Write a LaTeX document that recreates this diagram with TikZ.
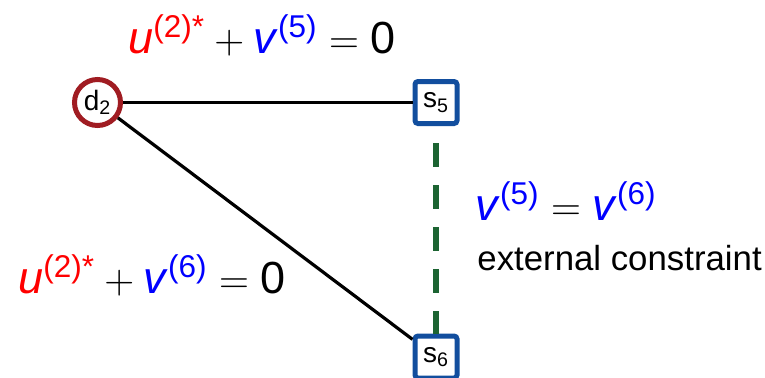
\documentclass[tikz,border=0pt]{standalone}
\usepackage{fontspec}
\setmainfont{Liberation Sans}
\usepackage{xcolor}
\usetikzlibrary{positioning}

\definecolor{dred}{RGB}{160,28,34}
\definecolor{sblue}{RGB}{18,78,158}
\definecolor{cgreen}{RGB}{28,100,50}

\newcommand{\uterm}{\mbox{\textcolor{red}{\textit{u}\textsuperscript{(2)*}}}}
\newcommand{\vterm}[1]{\mbox{\textcolor{blue}{\textit{v}\textsuperscript{(#1)}}}}

\begin{document}
\begin{tikzpicture}[x=0.5pt, y=-0.5pt,
    dnode/.style={circle, draw=dred, line width=2.5pt, fill=white, minimum size=23pt, inner sep=0pt, font=\fontsize{14}{16}\selectfont},
    snode/.style={rectangle, rounded corners=1.5pt, draw=sblue, line width=2.5pt, fill=white, minimum size=21pt, inner sep=0pt, font=\fontsize{14}{16}\selectfont},
    eqn/.style={anchor=base west, inner sep=0pt, font=\fontsize{22.5}{27}\selectfont}]

    \useasboundingbox (0,0) rectangle (765,377);

    \node[dnode] (d2) at (97.5,102.5) {d\textsubscript{2}};
    \node[snode, right of=d2, node distance=169.25pt] (s5) {s\textsubscript{5}};
    \node[snode, below of=s5, node distance=127.25pt] (s6) {s\textsubscript{6}};

    % links
    \draw[line width=1.6pt] (d2) -- (s5);
    \draw[line width=1.6pt] (d2) -- (s6);
    \draw[cgreen, line width=3pt, dash pattern=on 12pt off 9pt, dash phase=12.5pt] (s5) -- (s6);

    % equations
    \node[eqn] (eqtop) at (128,53) {$\uterm + \vterm{5} = \mbox{0}$};
    \node[eqn] (eqleft) at (18,293) {$\uterm + \vterm{6} = \mbox{0}$};
    \node[eqn] (eqright) at (475,220) {$\vterm{5} = \vterm{6}$};
    \node[anchor=base west, inner sep=0pt, font=\fontsize{17.4}{21}\selectfont] (ext) at (477,270) {external constraint};
\end{tikzpicture}
\end{document}
